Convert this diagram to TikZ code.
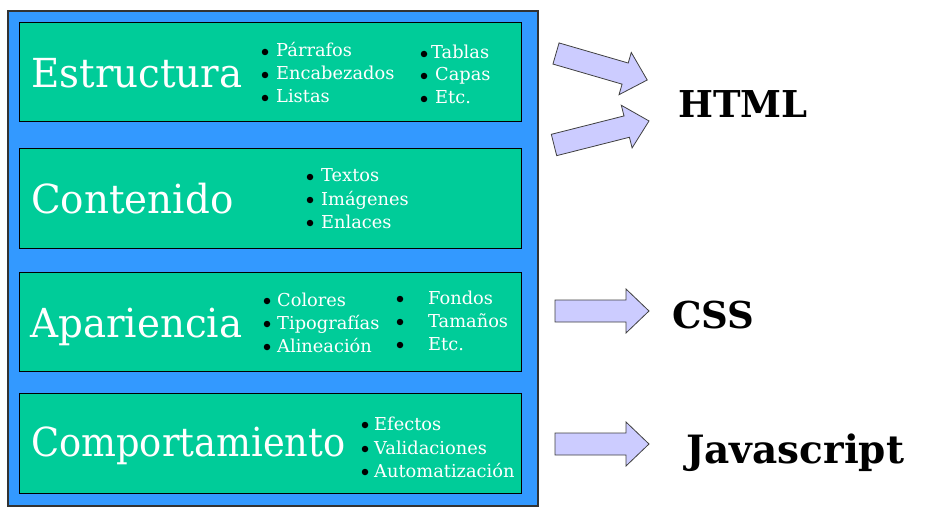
\documentclass[tikz,border=0pt]{standalone}
\usepackage{fontspec}
\newfontfamily\camfont{DejaVu Serif}
\newfontfamily\camtitle[FakeStretch=0.97]{DejaVu Serif}
\newfontfamily\camnarrow[FakeStretch=0.92]{DejaVu Serif}
\newfontfamily\cambold{DejaVu Serif Bold}
\newcommand\ttlfont{\camtitle\fontsize{40}{44}\selectfont}
\newcommand\ttlnarrowfont{\camnarrow\fontsize{40}{44}\selectfont}
\newcommand\itmfont{\camfont\fontsize{17.8}{20}\selectfont}
\newcommand\tchfont{\cambold\fontsize{37}{40}\selectfont}
\newcommand\jsfont{\cambold\fontsize{39}{42}\selectfont}
\definecolor{outerblue}{HTML}{3399FF}
\definecolor{boxgreen}{HTML}{00CC99}
\definecolor{arrowfill}{HTML}{CCCCFF}
\definecolor{arrowline}{HTML}{404040}
\newcommand\blkarrow[4]{%
  \begin{scope}[shift={(#1,#2)},rotate=#3]
    \draw[arrowshape] (0,-11) -- ({#4-23},-11) -- ({#4-23},-22) -- (#4,0)
      -- ({#4-23},22) -- ({#4-23},11) -- (0,11) -- cycle;
  \end{scope}}
\tikzset{
  ttl/.style={anchor=base west, inner sep=0pt, text=white, font=\ttlfont},
  itm/.style={anchor=base west, inner sep=0pt, text=white, font=\itmfont},
  bul/.style={circle, fill=black, inner sep=0pt, minimum size=6.5pt, yshift=5pt},
  tech/.style={anchor=base west, inner sep=0pt, text=black, font=\tchfont},
  layerbox/.style={fill=boxgreen, draw=black, line width=1pt},
  arrowshape/.style={fill=arrowfill, draw=arrowline, line width=0.8pt, line join=miter}
}
\begin{document}
\begin{tikzpicture}[x=1pt,y=-1pt]
\useasboundingbox (0,0) rectangle (937,508);
% outer frame
\draw[fill=outerblue, draw=black!80, line width=1.5pt] (8,11) rectangle (538,506);
% layer boxes
\draw[layerbox] (19,23) rectangle (521,122);
\draw[layerbox] (19,149) rectangle (521,248);
\draw[layerbox] (19,272) rectangle (521,371);
\draw[layerbox] (19,393) rectangle (521,493);
% titles
\node[ttl] (estructura) at (31,88) {Estructura};
\node[ttl] (contenido) at (31,213) {Contenido};
\node[ttl] (apariencia) at (30,337) {Apariencia};
\node[ttl, font=\ttlnarrowfont] (comportamiento) at (31,456) {Comportamiento};
% Estructura items
\node[bul] (eb1) at (265,57) {}; \node[itm] (e1) at (276,57) {Párrafos};
\node[bul] (eb2) at (265,80) {}; \node[itm] (e2) at (276,80) {Encabezados};
\node[bul] (eb3) at (265,103) {}; \node[itm] (e3) at (276,103) {Listas};
\node[bul] (eb4) at (424,59) {}; \node[itm] (e4) at (431,59) {Tablas};
\node[bul] (eb5) at (424,81) {}; \node[itm] (e5) at (435,81) {Capas};
\node[bul] (eb6) at (424,104) {}; \node[itm] (e6) at (435,104) {Etc.};
% Contenido items
\node[bul] (cb1) at (310,182) {}; \node[itm] (c1) at (321,182) {Textos};
\node[bul] (cb2) at (310,205) {}; \node[itm] (c2) at (321,205) {Imágenes};
\node[bul] (cb3) at (310,228) {}; \node[itm] (c3) at (321,228) {Enlaces};
% Apariencia items
\node[bul] (ab1) at (267,306) {}; \node[itm] (a1) at (277,306) {Colores};
\node[bul] (ab2) at (267,329) {}; \node[itm] (a2) at (277,329) {Tipografías};
\node[bul] (ab3) at (267,352) {}; \node[itm] (a3) at (277,352) {Alineación};
\node[bul] (ab4) at (400,304) {}; \node[itm] (a4) at (428,304) {Fondos};
\node[bul] (ab5) at (400,327) {}; \node[itm] (a5) at (428,327) {Tamaños};
\node[bul] (ab6) at (400,350) {}; \node[itm] (a6) at (428,350) {Etc.};
% Comportamiento items
\node[bul] (pb1) at (365,430) {}; \node[itm] (p1) at (374,430) {Efectos};
\node[bul] (pb2) at (365,454) {}; \node[itm] (p2) at (374,454) {Validaciones};
\node[bul] (pb3) at (365,477) {}; \node[itm] (p3) at (374,477) {Automatización};
% arrows
\blkarrow{556}{53.5}{-16.2}{95}
\blkarrow{554}{145}{14.2}{98}
\blkarrow{555}{311}{0}{94}
\blkarrow{555}{444}{0}{94}
% technologies
\node[tech] (html) at (678,118) {HTML};
\node[tech] (css) at (672,328) {CSS};
\node[tech, font=\jsfont] (js) at (686,463) {Javascript};
\end{tikzpicture}
\end{document}
